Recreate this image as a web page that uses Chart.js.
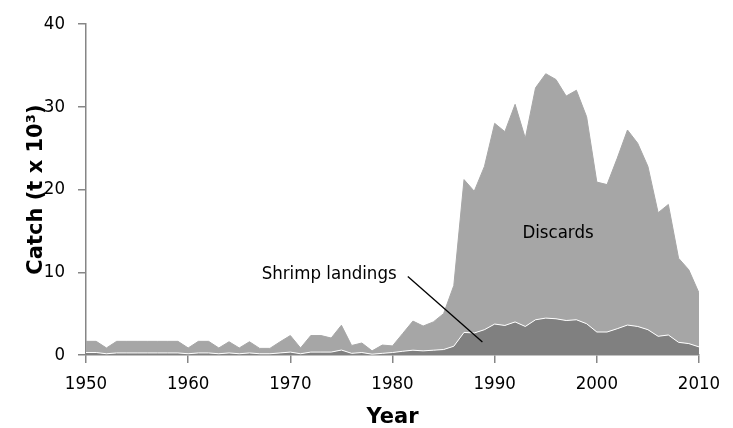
<!DOCTYPE html>
<html>
<head>
<meta charset="utf-8">
<script src="https://cdn.jsdelivr.net/npm/chart.js@4/dist/chart.umd.min.js"></script>
<style>
  html, body { margin: 0; padding: 0; background: #fff; }
  #wrap { width: 733px; height: 428px; position: relative; }
</style>
</head>
<body>
<div id="wrap"><canvas id="catchChart"></canvas></div>
<script>
// Data (t x 10^3)
const years = [
  1950, 1951, 1952, 1953, 1954, 1955, 1956, 1957, 1958, 1959,
  1960, 1961, 1962, 1963, 1964, 1965, 1966, 1967, 1968, 1969,
  1970, 1971, 1972, 1973, 1974, 1975, 1976, 1977, 1978, 1979,
  1980, 1981, 1982, 1983, 1984, 1985, 1986, 1987, 1988, 1989,
  1990, 1991, 1992, 1993, 1994, 1995, 1996, 1997, 1998, 1999,
  2000, 2001, 2002, 2003, 2004, 2005, 2006, 2007, 2008, 2009,
  2010
];

const shrimpLandings = [
  0.30, 0.30, 0.15, 0.25, 0.25, 0.25, 0.25, 0.25, 0.25, 0.25,
  0.15, 0.25, 0.25, 0.15, 0.25, 0.15, 0.25, 0.15, 0.15, 0.25,
  0.35, 0.15, 0.35, 0.35, 0.35, 0.60, 0.20, 0.30, 0.10, 0.20,
  0.30, 0.45, 0.58, 0.50, 0.58, 0.66, 1.06, 2.73, 2.66, 3.06,
  3.74, 3.57, 4.00, 3.45, 4.26, 4.46, 4.38, 4.17, 4.26, 3.78,
  2.78, 2.78, 3.18, 3.62, 3.45, 3.06, 2.26, 2.42, 1.53, 1.38,
  0.98
];

const discards = [
  1.35, 1.35, 0.70, 1.40, 1.40, 1.40, 1.40, 1.40, 1.40, 1.40,
  0.70, 1.40, 1.40, 0.70, 1.35, 0.70, 1.35, 0.65, 0.65, 1.35,
  2.00, 0.70, 2.00, 2.00, 1.70, 3.00, 0.95, 1.15, 0.40, 1.00,
  0.80, 2.15, 3.52, 3.00, 3.42, 4.34, 7.34, 18.47, 17.14, 19.74,
  24.26, 23.43, 26.30, 22.75, 28.04, 29.54, 28.92, 27.13, 27.74, 25.02,
  18.12, 17.82, 20.62, 23.58, 22.15, 19.74, 14.94, 15.78, 10.17, 8.92,
  6.52
];

const yTicks = [0, 10, 20, 30, 40];
const xTicks = [1950, 1960, 1970, 1980, 1990, 2000, 2010];

// Colours
const axisColor = '#868686';
const textColor = '#000000';
const shrimpColor = '#808080';
const discardColor = '#a6a6a6';

const labelFont = "'DejaVu Sans Condensed', 'DejaVu Sans', Verdana, sans-serif";
const titleFont = "'DejaVu Sans', Verdana, sans-serif";

Chart.defaults.font.family = labelFont;
Chart.defaults.color = textColor;

function toPoints(values) {
  return years.map((yr, i) => ({ x: yr, y: values[i] }));
}

// Text labels inside the plot, placed in data space
const annotations = {
  id: 'annotations',
  afterDatasetsDraw(chart) {
    const { ctx, scales: { x, y } } = chart;
    ctx.save();
    ctx.fillStyle = textColor;
    ctx.font = "18.5px " + labelFont;
    ctx.textAlign = 'center';
    ctx.textBaseline = 'alphabetic';
    ctx.fillText('Discards', x.getPixelForValue(1996.2), y.getPixelForValue(14.1));
    ctx.fillText('Shrimp landings', x.getPixelForValue(1973.8), y.getPixelForValue(9.15));

    // leader line to the landings area
    ctx.strokeStyle = '#000';
    ctx.lineWidth = 1.3;
    ctx.beginPath();
    ctx.moveTo(x.getPixelForValue(1981.5), y.getPixelForValue(9.5));
    ctx.lineTo(x.getPixelForValue(1988.8), y.getPixelForValue(1.58));
    ctx.stroke();
    ctx.restore();
  }
};

const chart = new Chart(document.getElementById('catchChart'), {
  type: 'line',
  data: {
    datasets: [
      {
        label: 'Shrimp landings',
        data: toPoints(shrimpLandings),
        backgroundColor: shrimpColor,
        borderColor: '#ffffff',
        borderWidth: 1,
        fill: 'origin',
        pointRadius: 0,
        tension: 0
      },
      {
        label: 'Discards',
        data: toPoints(discards),
        backgroundColor: discardColor,
        borderColor: discardColor,
        borderWidth: 1,
        fill: '-1',
        pointRadius: 0,
        tension: 0
      }
    ]
  },
  options: {
    responsive: true,
    maintainAspectRatio: false,
    animation: false,
    layout: { padding: { top: 21, right: 34, left: 0, bottom: 0 } },
    plugins: {
      legend: { display: false },
      tooltip: { enabled: false }
    },
    scales: {
      x: {
        type: 'linear',
        min: xTicks[0],
        max: xTicks[xTicks.length - 1],
        afterBuildTicks: s => { s.ticks = xTicks.map(v => ({ value: v })); },
        afterFit: s => { s.height = 73; },
        border: { color: axisColor, width: 1.5 },
        grid: { drawOnChartArea: false, drawTicks: true, tickLength: 8, color: axisColor, lineWidth: 1.5 },
        ticks: { font: { size: 18.5, lineHeight: 1 }, padding: 12, color: textColor, callback: v => String(v) },
        title: { display: true, text: 'Year', font: { family: titleFont, size: 21, weight: 'bold', lineHeight: 1 }, color: '#000', padding: { top: 0, bottom: 0 } }
      },
      y: {
        stacked: true,
        min: yTicks[0],
        max: yTicks[yTicks.length - 1],
        afterBuildTicks: s => { s.ticks = yTicks.map(v => ({ value: v })); },
        afterFit: s => { s.width = 86; },
        border: { color: axisColor, width: 1.5 },
        grid: { drawOnChartArea: false, drawTicks: true, tickLength: 8, color: axisColor, lineWidth: 1.5 },
        ticks: { font: { size: 18.5 }, padding: 13, color: textColor },
        title: { display: true, text: 'Catch (t x 10³)', font: { family: titleFont, size: 21, weight: 'bold', lineHeight: 1 }, color: '#000', padding: { top: 26, bottom: 0 } }
      }
    }
  },
  plugins: [annotations]
});
</script>
</body>
</html>
